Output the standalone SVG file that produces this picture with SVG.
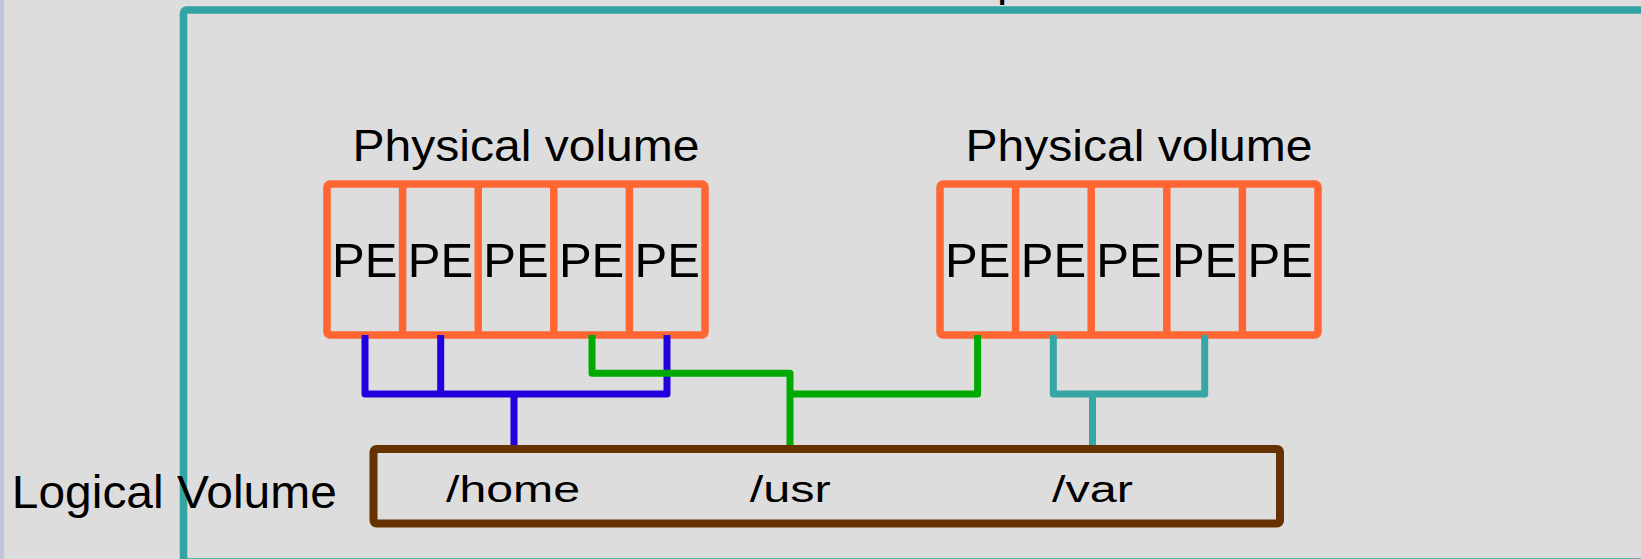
<svg xmlns="http://www.w3.org/2000/svg" width="1641" height="559" viewBox="0 0 1641 559">
<style>
  text { font-family: "Liberation Sans", Arial, sans-serif; fill: #000000; }
  .pv { fill: none; stroke: #ff6633; stroke-width: 7.5; }
  .div { stroke: #ff6633; stroke-width: 7.5; }
  .pe { font-size: 49px; text-anchor: middle; }
  .lbl { font-size: 45px; }
  .mnt { font-size: 37px; }
  .conn { fill: none; stroke-width: 7; stroke-linejoin: round; stroke-linecap: butt; }
  .blue { stroke: #2200dd; }
  .green { stroke: #00aa00; }
  .teal { stroke: #36a6a6; }
</style>
<rect x="0" y="0" width="1641" height="559" fill="#dddddd"/>
<rect x="0" y="0" width="4" height="559" fill="#bfc3dc"/>

<g id="volume-group">
  <rect x="183.5" y="10" width="1470" height="552" rx="3" fill="none" stroke="#33a4a4" stroke-width="7.5"/>
  <text x="1022.6" y="-5" font-size="46" text-anchor="end">Volume Group</text>
</g>

<g id="pv1">
  <text class="lbl" x="352.5" y="160.7" textLength="347" lengthAdjust="spacingAndGlyphs">Physical volume</text>
  <rect class="pv" x="327" y="184" width="378" height="151" rx="3"/>
  <line class="div" x1="402.6" y1="184" x2="402.6" y2="335"/>
  <line class="div" x1="478.2" y1="184" x2="478.2" y2="335"/>
  <line class="div" x1="553.8" y1="184" x2="553.8" y2="335"/>
  <line class="div" x1="629.4" y1="184" x2="629.4" y2="335"/>
  <text class="pe" x="364.8" y="276.7">PE</text>
  <text class="pe" x="440.4" y="276.7">PE</text>
  <text class="pe" x="516" y="276.7">PE</text>
  <text class="pe" x="591.6" y="276.7">PE</text>
  <text class="pe" x="667.2" y="276.7">PE</text>
</g>

<g id="pv2">
  <text class="lbl" x="965.5" y="160.7" textLength="347" lengthAdjust="spacingAndGlyphs">Physical volume</text>
  <rect class="pv" x="940" y="184" width="378" height="151" rx="3"/>
  <line class="div" x1="1015.6" y1="184" x2="1015.6" y2="335"/>
  <line class="div" x1="1091.2" y1="184" x2="1091.2" y2="335"/>
  <line class="div" x1="1166.8" y1="184" x2="1166.8" y2="335"/>
  <line class="div" x1="1242.4" y1="184" x2="1242.4" y2="335"/>
  <text class="pe" x="977.8" y="276.7">PE</text>
  <text class="pe" x="1053.4" y="276.7">PE</text>
  <text class="pe" x="1129" y="276.7">PE</text>
  <text class="pe" x="1204.6" y="276.7">PE</text>
  <text class="pe" x="1280.2" y="276.7">PE</text>
</g>

<g id="connectors">
  <path class="conn blue" d="M365,335 V394 H667 V335"/>
  <path class="conn blue" d="M440.7,335 V394"/>
  <path class="conn blue" d="M514,394 V445"/>
  <path class="conn green" d="M592,335 V373.3 H790 V445"/>
  <path class="conn green" d="M977.6,335 V394 H790"/>
  <path class="conn teal" d="M1053.3,335 V394 H1204.7 V335"/>
  <path class="conn teal" d="M1092.5,394 V445"/>
</g>

<g id="logical-volume">
  <text x="11.8" y="508" font-size="46.5" textLength="325" lengthAdjust="spacingAndGlyphs">Logical Volume</text>
  <rect x="373.5" y="449" width="906.5" height="74.5" rx="3" fill="none" stroke="#663300" stroke-width="8"/>
  <text class="mnt" x="446" y="501.7" textLength="134" lengthAdjust="spacingAndGlyphs">/home</text>
  <text class="mnt" x="749.8" y="501.7" textLength="81" lengthAdjust="spacingAndGlyphs">/usr</text>
  <text class="mnt" x="1052" y="501.7" textLength="81" lengthAdjust="spacingAndGlyphs">/var</text>
</g>
</svg>
